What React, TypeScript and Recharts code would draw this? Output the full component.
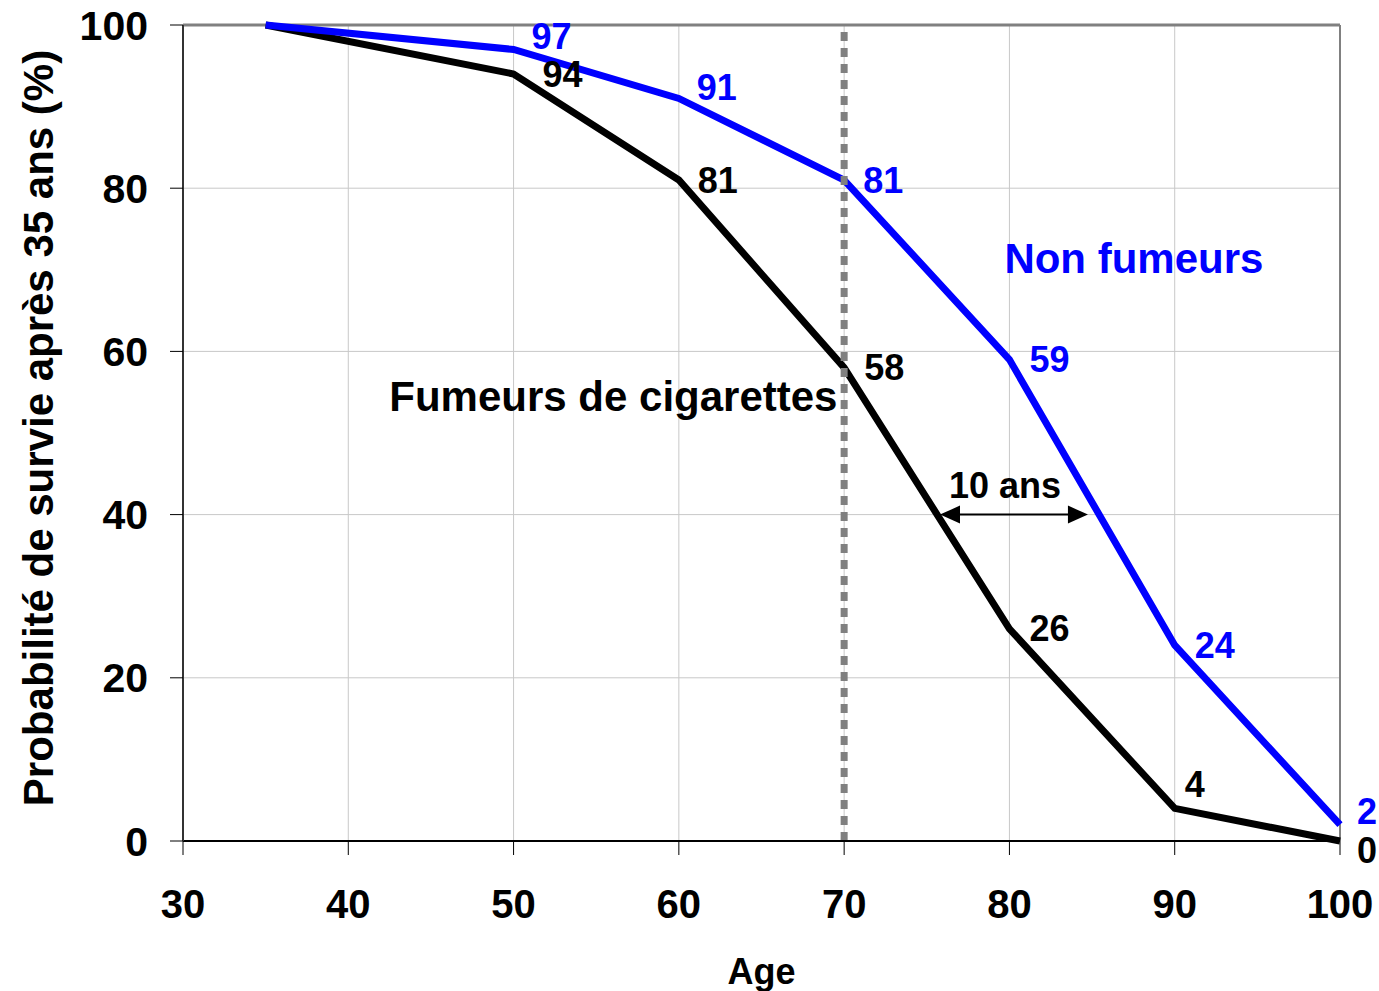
import React from 'react';
import {
  LineChart,
  Line,
  XAxis,
  YAxis,
  CartesianGrid,
  ReferenceLine,
  ReferenceDot,
  LabelList,
  Label,
} from 'recharts';

// ---- data ----
const ages = [35, 50, 60, 70, 80, 90, 100];
const smokers = [100, 94, 81, 58, 26, 4, 0];
const nonSmokers = [100, 97, 91, 81, 59, 24, 2];
const xTicks = [30, 40, 50, 60, 70, 80, 90, 100];
const yTicks = [0, 20, 40, 60, 80, 100];

const data = ages.map((a, i) => ({ age: a, fumeurs: smokers[i], nonFumeurs: nonSmokers[i] }));

// label offsets (pixels) per point index: [dx, dy]
const blueOffsets: number[][] = [[0, 0], [18, -13], [18, -11], [19, 0], [20, 0], [20, 0], [17, -13]];
const blackOffsets: number[][] = [[0, 0], [29, 1], [19, 0], [20, 0], [20, 0], [10, -24], [17, 9]];

const FONT = '"Liberation Sans", Arial, sans-serif';

const makeLabel = (color: string, offsets: number[][]) => (props: any) => {
  const { x, y, value, index } = props;
  if (index === 0) return null;
  const [dx, dy] = offsets[index];
  return (
    <text
      x={x + dx}
      y={y + dy}
      fill={color}
      fontFamily={FONT}
      fontWeight="bold"
      fontSize={36}
      textAnchor="start"
      dominantBaseline="central"
    >
      {value}
    </text>
  );
};

const textLabel = (text: string, color: string, size: number) => (props: any) => {
  const vb = props.viewBox || {};
  const cx = vb.x + (vb.width || 0) / 2;
  const cy = vb.y + (vb.height || 0) / 2;
  return (
    <text
      x={cx}
      y={cy}
      fill={color}
      fontFamily={FONT}
      fontWeight="bold"
      fontSize={size}
      textAnchor="middle"
      dominantBaseline="central"
    >
      {text}
    </text>
  );
};

const ArrowShape = (props: any) => {
  const { x1, y1, x2, y2 } = props;
  const hl = 20;
  const hw = 9;
  return (
    <g>
      <line x1={x1 + hl - 2} y1={y1} x2={x2 - hl + 2} y2={y2} stroke="#000" strokeWidth={2} />
      <polygon points={`${x1},${y1} ${x1 + hl},${y1 - hw} ${x1 + hl},${y1 + hw}`} fill="#000" />
      <polygon points={`${x2},${y2} ${x2 - hl},${y2 - hw} ${x2 - hl},${y2 + hw}`} fill="#000" />
    </g>
  );
};

const YTitle = (props: any) => {
  const vb = props.viewBox || { x: 0, y: 0, width: 0, height: 0 };
  const x = vb.x + 38;
  const y = vb.y + vb.height / 2 - 5;
  return (
    <text
      x={x}
      y={y}
      transform={`rotate(-90 ${x} ${y})`}
      fill="#000"
      fontFamily={FONT}
      fontWeight="bold"
      fontSize={42}
      textAnchor="middle"
      dominantBaseline="central"
    >
      Probabilité de survie après 35 ans (%)
    </text>
  );
};

const XTitle = (props: any) => {
  const vb = props.viewBox || { x: 0, y: 0, width: 0, height: 0 };
  const x = vb.x + vb.width / 2;
  const y = vb.y + 130;
  return (
    <text
      x={x}
      y={y}
      fill="#000"
      fontFamily={FONT}
      fontWeight="bold"
      fontSize={36}
      textAnchor="middle"
      dominantBaseline="central"
    >
      Age
    </text>
  );
};

export default function App() {
  return (
    <div style={{ position: 'absolute', left: 0, top: 0, background: '#fff' }}>
      <LineChart
        width={1379}
        height={991}
        data={data}
        margin={{ top: 25, right: 39, left: 0, bottom: 0 }}
      >
        <CartesianGrid stroke="#c8c8c8" strokeWidth={1} verticalValues={xTicks} horizontalValues={yTicks} />
        <XAxis
          dataKey="age"
          type="number"
          domain={[30, 100]}
          ticks={xTicks}
          interval={0}
          height={150}
          tickSize={14}
          tickMargin={35}
          axisLine={{ stroke: '#000', strokeWidth: 2 }}
          tickLine={{ stroke: '#000', strokeWidth: 1 }}
          tick={{ fill: '#000', fontFamily: FONT, fontWeight: 'bold', fontSize: 40 }}
        >
          <Label content={XTitle} />
        </XAxis>
        <YAxis
          type="number"
          domain={[0, 100]}
          ticks={yTicks}
          interval={0}
          width={183}
          tickSize={13}
          tickMargin={22}
          axisLine={{ stroke: '#333', strokeWidth: 2 }}
          tickLine={{ stroke: '#000', strokeWidth: 1 }}
          tick={{ fill: '#000', fontFamily: FONT, fontWeight: 'bold', fontSize: 41 }}
        >
          <Label content={YTitle} />
        </YAxis>
        <ReferenceLine y={100} stroke="#808080" strokeWidth={3} />
        <ReferenceLine x={100} stroke="#808080" strokeWidth={2} />
        <Line
          dataKey="fumeurs"
          stroke="#000"
          strokeWidth={7}
          dot={false}
          isAnimationActive={false}
          type="linear"
        >
          <LabelList dataKey="fumeurs" content={makeLabel('#000', blackOffsets)} />
        </Line>
        <Line
          dataKey="nonFumeurs"
          stroke="#0000ff"
          strokeWidth={7}
          dot={false}
          isAnimationActive={false}
          type="linear"
        >
          <LabelList dataKey="nonFumeurs" content={makeLabel('#0000ff', blueOffsets)} />
        </Line>
        <ReferenceLine x={70} stroke="#808080" strokeWidth={7} strokeDasharray="9 7" />
        <ReferenceLine
          segment={[{ x: 75.8, y: 40 }, { x: 84.75, y: 40 }]}
          shape={ArrowShape}
        />
        <ReferenceDot x={79.73} y={43.6} r={0} fill="none" stroke="none" label={textLabel('10 ans', '#000', 36)} />
        <ReferenceDot x={56.04} y={54.5} r={0} fill="none" stroke="none" label={textLabel('Fumeurs de cigarettes', '#000', 42)} />
        <ReferenceDot x={87.53} y={71.4} r={0} fill="none" stroke="none" label={textLabel('Non fumeurs', '#0000ff', 42)} />
      </LineChart>
    </div>
  );
}
